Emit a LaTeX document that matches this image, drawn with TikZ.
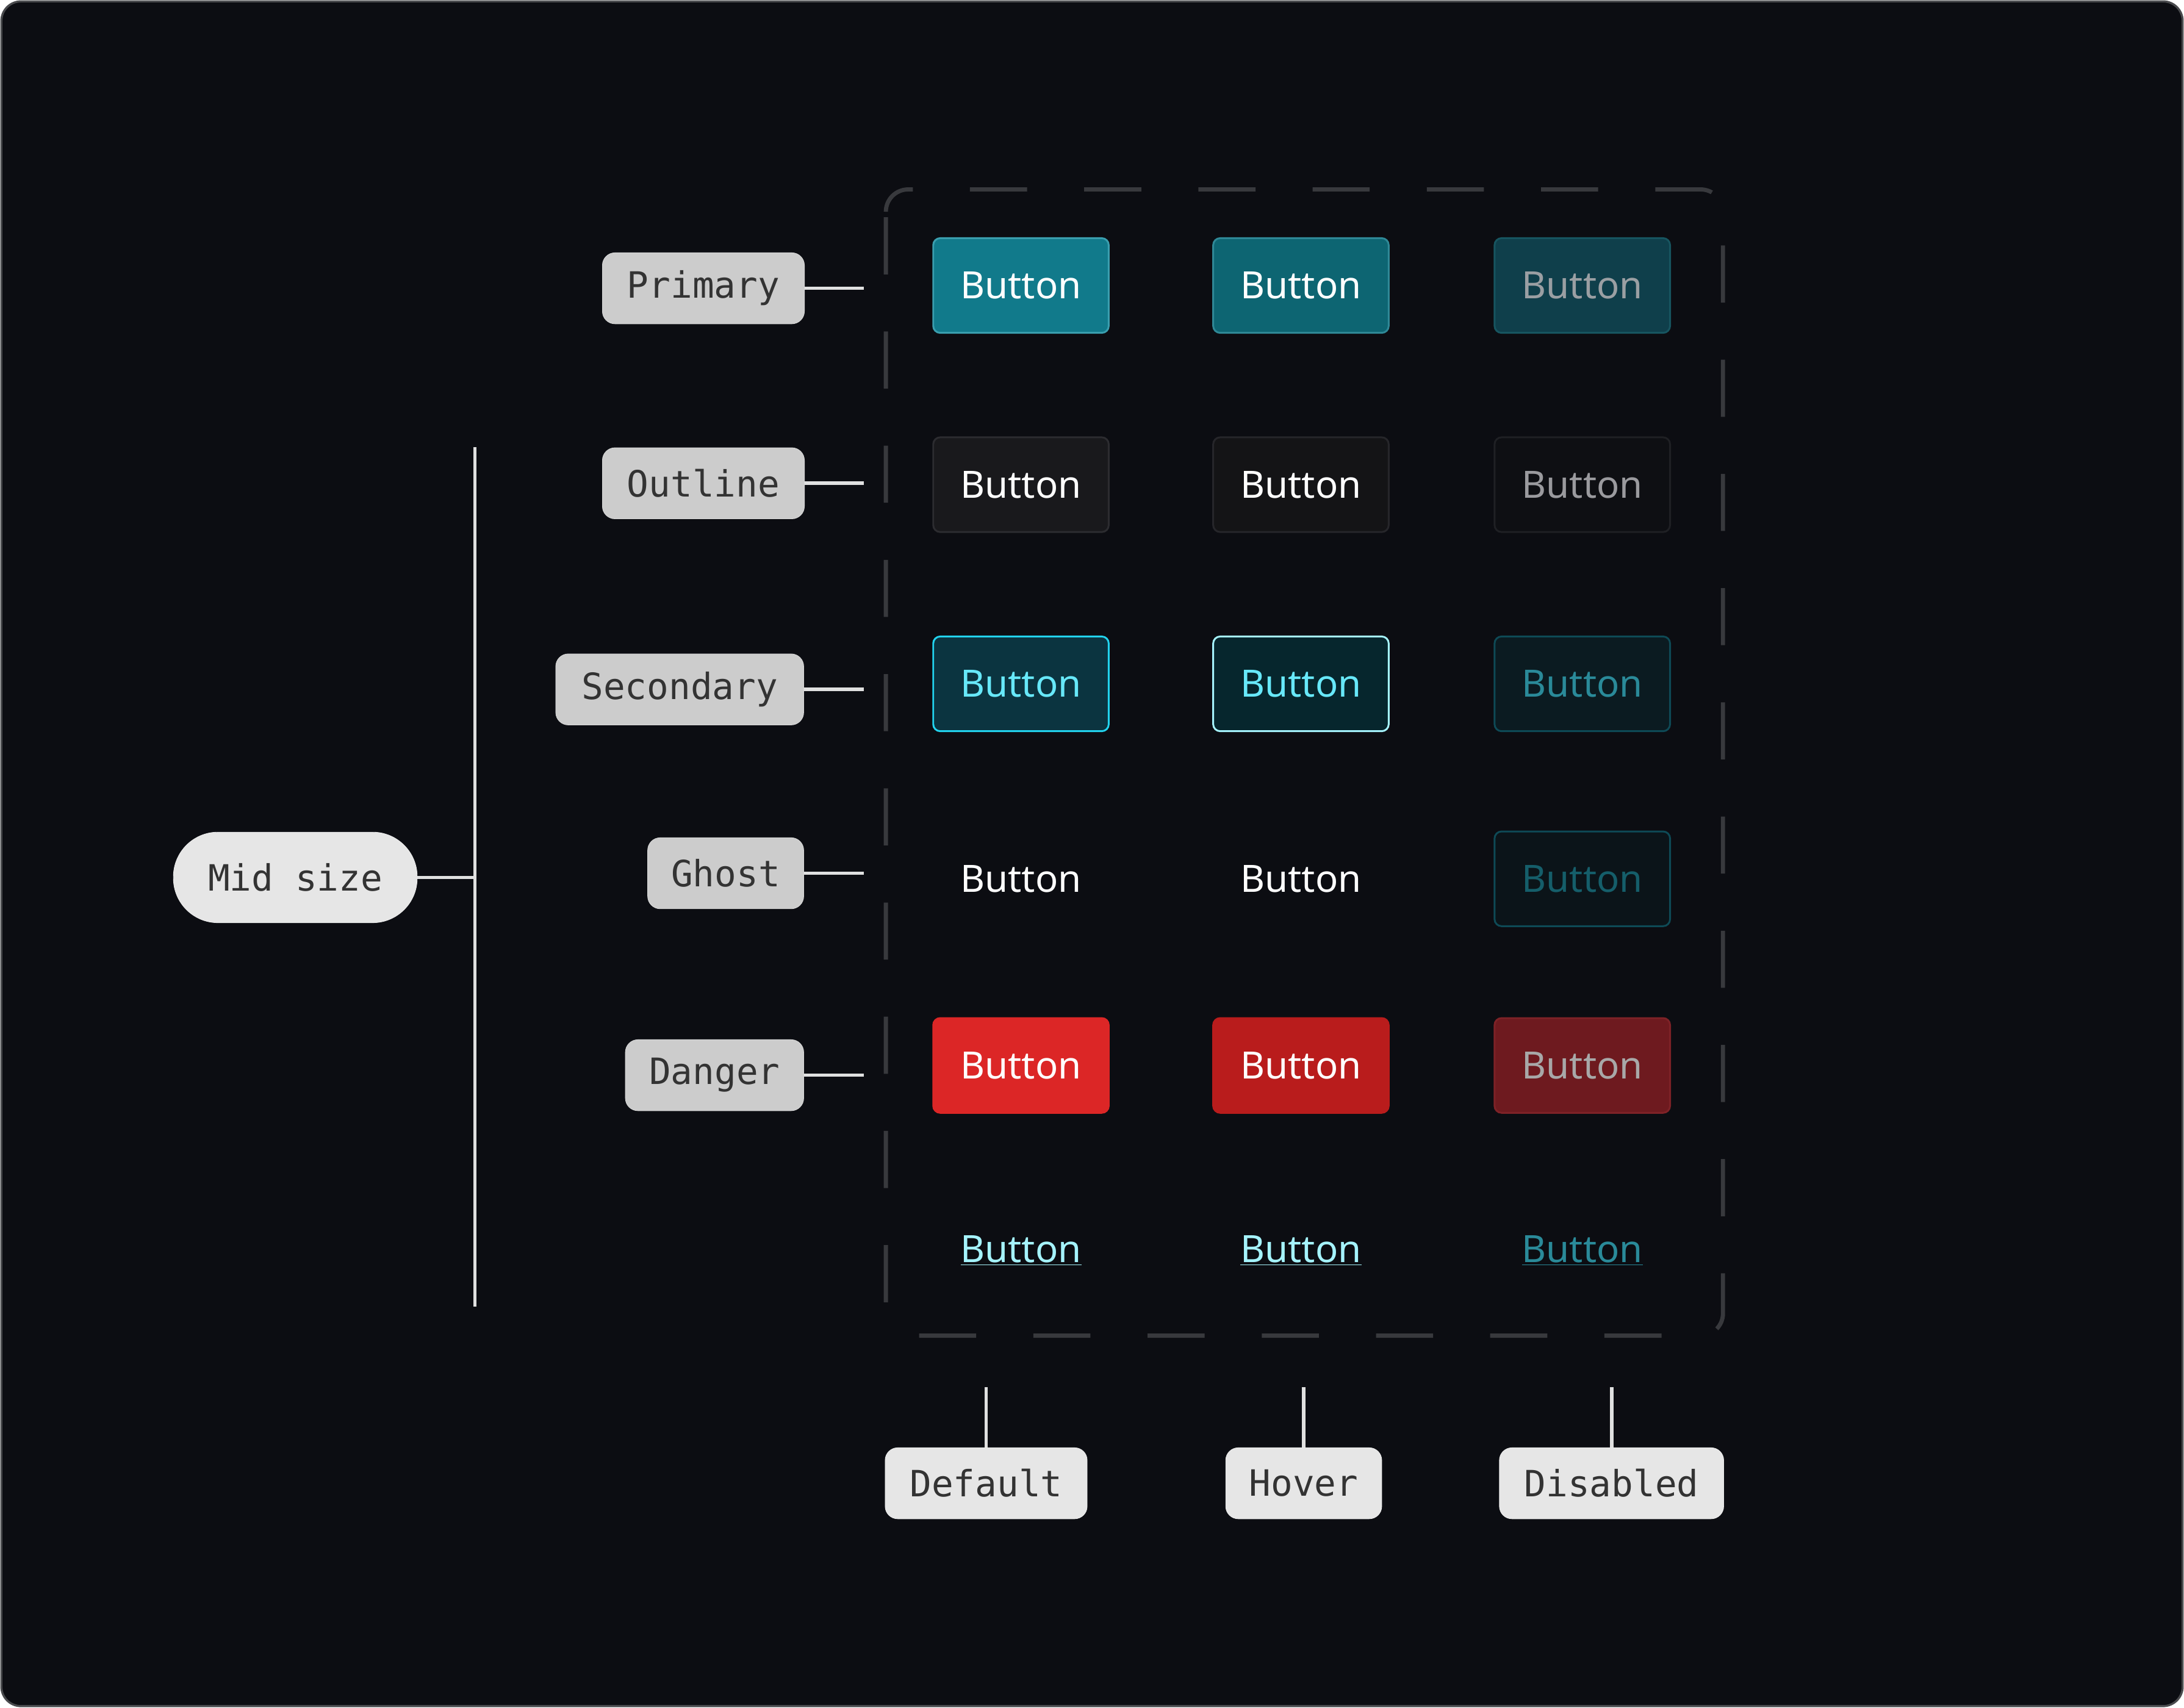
\documentclass[tikz,border=0pt]{standalone}
\usepackage{fontspec}
\setmainfont{Noto Sans}
\newfontfamily\lblfont{DejaVu Sans Mono}
\definecolor{bg}{HTML}{0C0D12}
\definecolor{lab}{HTML}{CCCCCC}
\definecolor{labm}{HTML}{E6E6E6}
\definecolor{cA}{HTML}{117A8B}\definecolor{cB}{HTML}{3A9EAE}\definecolor{cC}{HTML}{0D6572}
\definecolor{cD}{HTML}{2F8896}\definecolor{cE}{HTML}{0F3F4B}\definecolor{cF}{HTML}{175560}
\definecolor{cG}{HTML}{9A9FA3}
\definecolor{oA}{HTML}{19191C}\definecolor{oB}{HTML}{2C2C30}\definecolor{oC}{HTML}{141416}
\definecolor{oD}{HTML}{26262A}\definecolor{oE}{HTML}{0E0F13}\definecolor{oF}{HTML}{1F2024}
\definecolor{oG}{HTML}{9A9A9E}
\definecolor{sA}{HTML}{0B3440}\definecolor{sB}{HTML}{22D3EE}\definecolor{sC}{HTML}{67E8F9}
\definecolor{sD}{HTML}{06262D}\definecolor{sE}{HTML}{A5F3FC}\definecolor{sF}{HTML}{0B1B21}
\definecolor{sG}{HTML}{0E4A56}\definecolor{sH}{HTML}{2A8A99}
\definecolor{gA}{HTML}{0B1419}\definecolor{gB}{HTML}{155E6A}
\definecolor{dA}{HTML}{DC2626}\definecolor{dB}{HTML}{B91C1C}\definecolor{dC}{HTML}{6E1A1F}
\definecolor{dD}{HTML}{7E2227}\definecolor{dE}{HTML}{A8A8A8}
\begin{document}
\begin{tikzpicture}[x=1pt,y=-1pt,
 lbl/.style={draw=#1!80!white,fill=#1,rounded corners=9pt,text=black!80,font=\lblfont\fontsize{26}{30}\selectfont,inner sep=0pt,minimum height=51pt},
 btn/.style={rounded corners=5pt,minimum width=126pt,minimum height=68pt,inner sep=0pt,font=\fontsize{27}{30}\selectfont,line width=1.3pt},
 conn/.style={draw=white!88!black,line width=2.5pt}]
\fill[bg,draw=white!25!bg,line width=1.5pt,rounded corners=14pt] (1,1) rectangle (1567,1225);
\useasboundingbox (0,0) rectangle (1568,1226);
\draw[white!18!bg,line width=3pt,dash pattern=on 41pt off 41pt,dash phase=-4pt,rounded corners=16pt] (636,136) rectangle (1237,959);
% row labels
\node[lbl=lab,minimum width=145pt] (pri) at (505,207) {Primary};
\node[lbl=lab,minimum width=145pt] (out) at (505,347) {Outline};
\node[lbl=lab,minimum width=178pt] (sec) at (488,495) {Secondary};
\node[lbl=lab,minimum width=112pt] (gho) at (521,627) {Ghost};
\node[lbl=lab,minimum width=128pt] (dan) at (513,772) {Danger};
\foreach \n/\y in {pri/207,out/347,sec/495,gho/627,dan/772}{
 \coordinate (e\n) at (620,\y);
 \draw[conn] (\n.east) -- (e\n);}
\node[lbl=labm,minimum width=175pt,minimum height=65pt,rounded corners=32pt] (mid) at (212,630) {Mid size};
\coordinate (vt) at (341,321); \coordinate (vb) at (341,938); \coordinate (vm) at (341,630);
\draw[conn] (vt) -- (vb);
\draw[conn] (mid.east) -- (vm);
% column labels
\node[lbl=labm,minimum width=145pt] (def) at (708,1065) {Default};
\node[lbl=labm,minimum width=112pt] (hov) at (936,1065) {Hover};
\node[lbl=labm,minimum width=161pt] (dis) at (1157,1065) {Disabled};
\foreach \n/\x in {def/708,hov/936,dis/1157}{
 \coordinate (t\n) at (\x,996);
 \draw[conn] (t\n) -- (\n.north);}
% buttons
\node[btn,fill=cA,draw=cB,text=white] (p1) at (733,205) {Button};
\node[btn,fill=cC,draw=cD,text=white] (p2) at (934,205) {Button};
\node[btn,fill=cE,draw=cF,text=cG] (p3) at (1136,205) {Button};
\node[btn,fill=oA,draw=oB,text=white] (o1) at (733,348) {Button};
\node[btn,fill=oC,draw=oD,text=white] (o2) at (934,348) {Button};
\node[btn,fill=oE,draw=oF,text=oG] (o3) at (1136,348) {Button};
\node[btn,fill=sA,draw=sB,text=sC] (s1) at (733,491) {Button};
\node[btn,fill=sD,draw=sE,text=sC] (s2) at (934,491) {Button};
\node[btn,fill=sF,draw=sG,text=sH] (s3) at (1136,491) {Button};
\node[btn,text=white] (g1) at (733,631) {Button};
\node[btn,text=white] (g2) at (934,631) {Button};
\node[btn,fill=gA,draw=sG,text=gB] (g3) at (1136,631) {Button};
\node[btn,fill=dA,draw=dA,text=white] (d1) at (733,765) {Button};
\node[btn,fill=dB,draw=dB,text=white] (d2) at (934,765) {Button};
\node[btn,fill=dC,draw=dD,text=dE] (d3) at (1136,765) {Button};
\node[btn,text=sE] (l1) at (733,898) {\underline{Button}};
\node[btn,text=sE] (l2) at (934,898) {\underline{Button}};
\node[btn,text=sH] (l3) at (1136,898) {\underline{Button}};
\end{tikzpicture}
\end{document}
